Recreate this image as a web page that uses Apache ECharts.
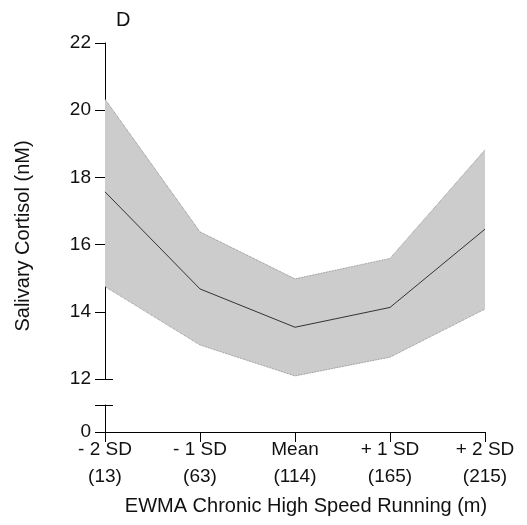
<!DOCTYPE html>
<html>
<head>
<meta charset="utf-8">
<script src="https://cdn.jsdelivr.net/npm/echarts@6/dist/echarts.min.js"></script>
<style>
html,body{margin:0;padding:0;background:#fff;}
#main{width:527px;height:525px;}
</style>
</head>
<body>
<div id="main"></div>
<script>
// categories (x) and values
var categories = ['- 2 SD\n(13)', '- 1 SD\n(63)', 'Mean\n(114)', '+ 1 SD\n(165)', '+ 2 SD\n(215)'];
var meanLine = [17.57, 14.68, 13.54, 14.13, 16.46];
var upperCI = [20.33, 16.38, 14.98, 15.59, 18.82];
var lowerCI = [14.75, 13.01, 12.09, 12.65, 14.08];

// band height for the stacked area
var bandWidth = upperCI.map(function (v, i) { return +(v - lowerCI[i]).toFixed(2); });

var fontFam = '"Liberation Sans", Arial, sans-serif';
var black = '#000';
var txt = '#111';

var option = {
    backgroundColor: '#fff',
    animation: false,
    textStyle: { fontFamily: fontFam },
    grid: [
        { left: 105, right: 42, top: 43, bottom: 146 },   // upper 12-22
        { left: 105, right: 42, top: 405, bottom: 93 }    // lower 0
    ],
    xAxis: [
        {
            gridIndex: 0, type: 'category', data: categories, boundaryGap: false,
            show: false
        },
        {
            gridIndex: 1, type: 'category', data: categories, boundaryGap: false,
            axisLine: { lineStyle: { color: black, width: 1 } },
            axisTick: { show: true, inside: false, length: 10, alignWithLabel: true, lineStyle: { color: black } },
            axisLabel: {
                color: txt, fontSize: 19, lineHeight: 27, margin: 4,
                fontFamily: fontFam, interval: 0
            },
            name: 'EWMA Chronic High Speed Running (m)',
            nameLocation: 'middle', nameGap: 64,
            nameTextStyle: { color: txt, fontSize: 20, fontFamily: fontFam, padding: [0, 0, 0, 22] }
        }
    ],
    yAxis: [
        {
            gridIndex: 0, type: 'value', min: 12, max: 22, interval: 2,
            splitLine: { show: false },
            axisLine: { show: true, lineStyle: { color: black } },
            axisTick: { show: true, length: 10, lineStyle: { color: black } },
            axisLabel: { color: txt, fontSize: 19, margin: 14, fontFamily: fontFam }
        },
        {
            // inner half of the break tick at 12
            gridIndex: 0, type: 'value', min: 12, max: 22, position: 'left',
            splitLine: { show: false },
            axisLine: { show: false },
            axisTick: { show: true, inside: true, length: 8, customValues: [12], lineStyle: { color: black } },
            axisLabel: { show: false }
        },
        {
            gridIndex: 1, type: 'value', min: 0, max: 1,
            splitLine: { show: false },
            axisLine: { show: true, lineStyle: { color: black } },
            axisTick: { show: true, length: 10, customValues: [0, 1], lineStyle: { color: black } },
            axisLabel: { color: txt, fontSize: 19, margin: 14, fontFamily: fontFam, customValues: [0] }
        },
        {
            gridIndex: 1, type: 'value', min: 0, max: 1, position: 'left',
            splitLine: { show: false },
            axisLine: { show: false },
            axisTick: { show: true, inside: true, length: 8, customValues: [1], lineStyle: { color: black } },
            axisLabel: { show: false }
        }
    ],
    graphic: [
        {
            type: 'text', left: 116, top: 10,
            style: { text: 'D', fontSize: 20, fontFamily: fontFam, fill: txt }
        },
        {
            type: 'text', x: 23, y: 236, rotation: Math.PI / 2,
            style: {
                text: 'Salivary Cortisol (nM)', fontSize: 20, fontFamily: fontFam, fill: txt,
                align: 'center', verticalAlign: 'middle'
            }
        }
    ],
    series: [
        {
            name: 'lower', type: 'line', xAxisIndex: 0, yAxisIndex: 0,
            data: lowerCI, stack: 'ci', symbol: 'none',
            lineStyle: { color: '#777', width: 0.8, type: 'dotted' }
        },
        {
            name: 'band', type: 'line', xAxisIndex: 0, yAxisIndex: 0,
            data: bandWidth, stack: 'ci', symbol: 'none',
            lineStyle: { color: '#777', width: 0.8, type: 'dotted' },
            areaStyle: { color: '#cccccc', opacity: 1 }
        },
        {
            name: 'mean', type: 'line', xAxisIndex: 0, yAxisIndex: 0,
            data: meanLine, symbol: 'none',
            lineStyle: { color: '#333', width: 1 }
        }
    ]
};

var myChart = echarts.init(document.getElementById('main'));
myChart.setOption(option);
</script>
</body>
</html>
